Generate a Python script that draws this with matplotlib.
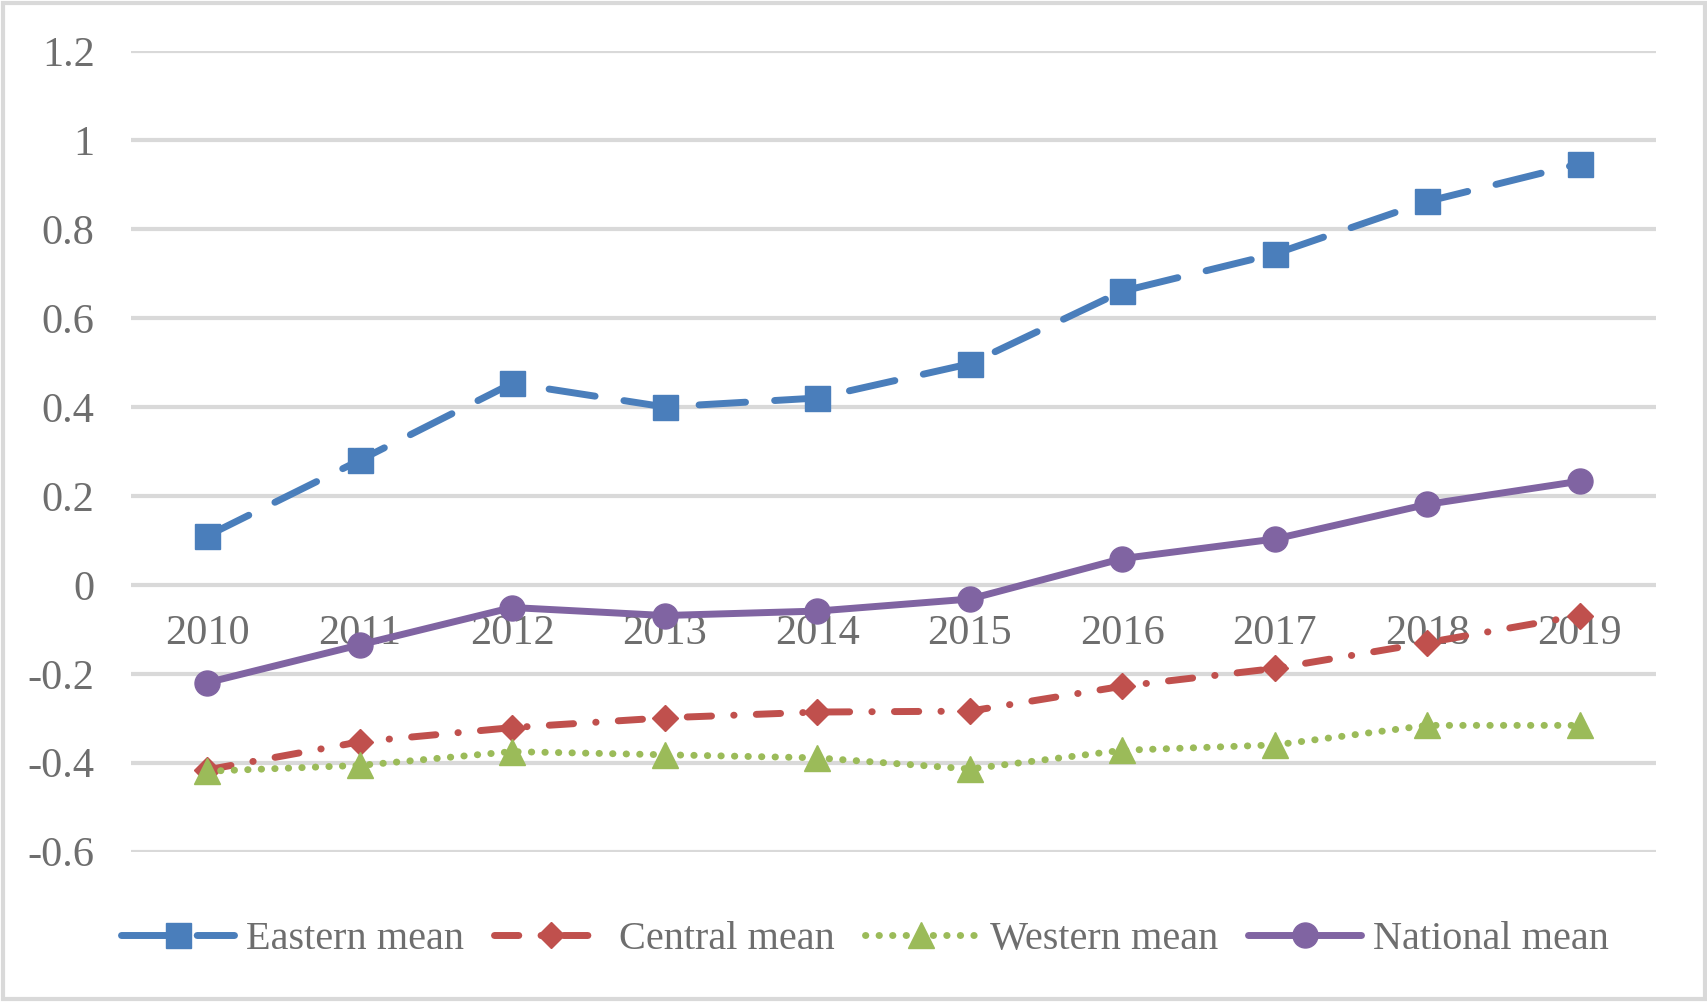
import matplotlib
matplotlib.use("Agg")
import matplotlib.pyplot as plt
from matplotlib.patches import Rectangle

years = ["2010", "2011", "2012", "2013", "2014", "2015", "2016", "2017", "2018", "2019"]
eastern = [0.110, 0.280, 0.453, 0.400, 0.420, 0.497, 0.660, 0.744, 0.862, 0.947]
central = [-0.416, -0.353, -0.321, -0.299, -0.286, -0.284, -0.228, -0.188, -0.130, -0.069]
western = [-0.419, -0.406, -0.375, -0.382, -0.389, -0.414, -0.372, -0.360, -0.316, -0.316]
national = [-0.220, -0.135, -0.051, -0.069, -0.059, -0.032, 0.059, 0.103, 0.181, 0.233]
yticks = [-0.6, -0.4, -0.2, 0, 0.2, 0.4, 0.6, 0.8, 1, 1.2]
ytick_labels = ["-0.6", "-0.4", "-0.2", "0", "0.2", "0.4", "0.6", "0.8", "1", "1.2"]

plt.rcParams['font.family'] = ['Liberation Serif', 'DejaVu Serif']
txt_color = "#6e6e6e"

fig = plt.figure(figsize=(17.08, 10.02), dpi=100)
ax = fig.add_axes([0.0766, 0.15, 0.893, 0.799])

x = list(range(len(years)))
lw = 5.0
ax.plot(x, eastern, color="#4a7ebb", lw=lw, dashes=(6.7, 4.2), dash_capstyle="round",
        marker="s", ms=18, label="Eastern mean", zorder=3)
ax.plot(x, central, color="#c0504d", lw=lw, dashes=(3.5, 3.2, 0.05, 3.2), dash_capstyle="round",
        marker="D", ms=13, label="Central mean", zorder=3)
ax.plot(x, western, color="#9bbb59", lw=lw, dashes=(0.05, 1.9), dash_capstyle="round",
        marker="^", ms=19, label="Western mean", zorder=3)
ax.plot(x, national, color="#8064a2", lw=lw, solid_capstyle="round",
        marker="o", ms=18, label="National mean", zorder=4)

ax.set_xlim(-0.5, len(years) - 0.5)
ax.set_ylim(-0.6, 1.2)
ax.set_yticks(yticks)
ax.set_yticklabels(ytick_labels)
ax.set_xticks(x)
ax.set_xticklabels(years)
ax.grid(axis="y", color="#d9d9d9", lw=3)
ax.set_axisbelow(True)
for s in ["top", "right", "left"]:
    ax.spines[s].set_visible(False)
ax.spines["bottom"].set_position(("data", 0))
ax.spines["bottom"].set_visible(False)
ax.tick_params(axis="x", length=0, pad=21, labelsize=30.5, labelcolor=txt_color)
ax.tick_params(axis="y", length=0, pad=26, labelsize=30.5, labelcolor=txt_color)

leg = ax.legend(loc="center", ncol=4, frameon=False, fontsize=29, handlelength=2.8,
                handletextpad=0.3, columnspacing=0.75, borderaxespad=0)
leg.set_bbox_to_anchor((0.5065, 0.062), transform=fig.transFigure)
for t in leg.get_texts():
    t.set_color(txt_color)

fig.patches.append(Rectangle((0.002, 0.003), 0.996, 0.994, transform=fig.transFigure,
                             fill=False, edgecolor="#d9d9d9", lw=3))

fig.savefig("out.png", dpi=100)
